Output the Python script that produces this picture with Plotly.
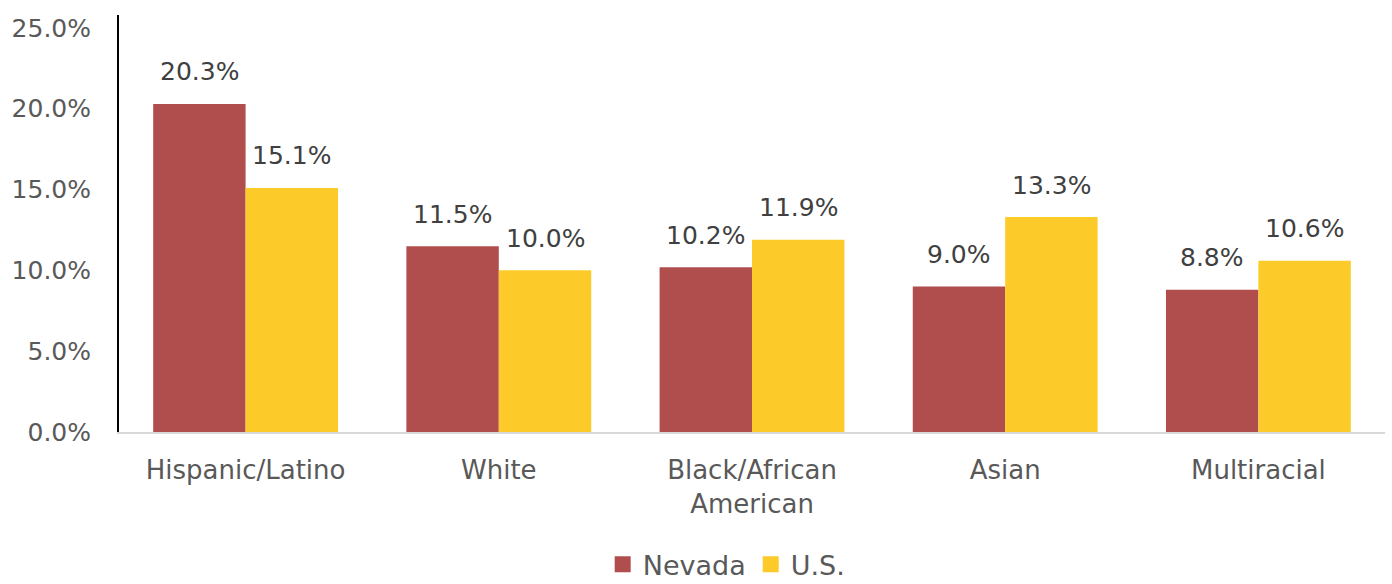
import plotly.graph_objects as go

categories = ["Hispanic/Latino", "White", "Black/African<br>American", "Asian", "Multiracial"]
nevada = [20.3, 11.5, 10.2, 9.0, 8.8]
us = [15.1, 10.0, 11.9, 13.3, 10.6]
tick_vals = [0, 5, 10, 15, 20, 25]
tick_text = ["0.0%", "5.0%", "10.0%", "15.0%", "20.0%", "25.0%"]

FONT = "DejaVu Sans"
RED = "#B04E4E"
YELLOW = "#FCCB2A"
BARGAP = 0.27
half = (1 - BARGAP) / 4  # offset of each bar centre from category centre

fig = go.Figure()
fig.add_trace(go.Bar(x=categories, y=nevada, name="Nevada", marker_color=RED,
                     marker_line_width=0, showlegend=False))
fig.add_trace(go.Bar(x=categories, y=us, name="U.S.", marker_color=YELLOW,
                     marker_line_width=0, showlegend=False))
# legend entries with larger square swatches
for name, col in (("Nevada", RED), ("U.S.", YELLOW)):
    fig.add_trace(go.Scatter(x=[None], y=[None], mode="markers", name=name,
                             marker=dict(symbol="square", size=22, color=col),
                             hoverinfo="skip"))

# value labels above bars
for series, sign in ((nevada, -1), (us, 1)):
    for i, v in enumerate(series):
        fig.add_annotation(x=i + sign * half, y=v, xref="x", yref="y",
                           text=f"{v:.1f}%", showarrow=False, yanchor="middle",
                           yshift=32, font=dict(family=FONT, size=25, color="#404040"))

fig.update_layout(
    width=1392, height=584,
    margin=dict(l=119, r=7, t=15, b=152, autoexpand=False),
    barmode="group", bargap=BARGAP, bargroupgap=0,
    plot_bgcolor="white", paper_bgcolor="white",
    font=dict(family=FONT, size=25, color="#595959"),
    showlegend=True,
    legend=dict(orientation="h", x=0.48, xanchor="center", y=-0.318, yanchor="middle",
                font=dict(family=FONT, size=27, color="#595959"),
                traceorder="normal", itemsizing="trace"),
)
fig.update_yaxes(range=[0, 25.8], tickvals=tick_vals, ticktext=tick_text,
                 showgrid=False, zeroline=False, showline=True, linecolor="black",
                 linewidth=2, ticks="", ticklabelstandoff=21, automargin=False,
                 tickfont=dict(family=FONT, size=25, color="#595959"))
fig.update_xaxes(showgrid=False, showline=True, linecolor="#D9D9D9", linewidth=2,
                 ticks="", ticklabelstandoff=14, automargin=False,
                 tickfont=dict(family=FONT, size=26, color="#595959"))
fig.write_html("out.html", config={"displayModeBar": False},
               post_script="document.body.style.margin='0';document.body.style.overflow='hidden';")
